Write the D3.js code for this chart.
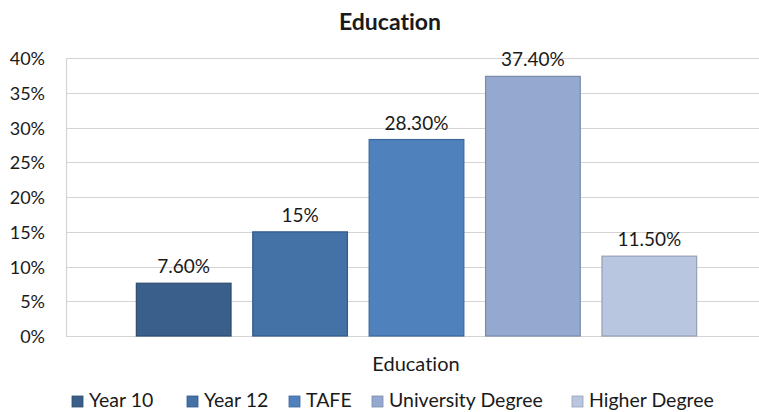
<!DOCTYPE html>
<html><head><meta charset="utf-8">
<script src="https://cdn.jsdelivr.net/npm/d3@7"></script>
<style>body{margin:0;background:#fff}svg{display:block}text{font-family:Lato,"Open Sans",sans-serif;fill:#1a1a1a;font-variant-ligatures:none;font-feature-settings:"liga" 0}</style>
</head><body><svg id="c" width="759" height="412"></svg>
<script>
const categories = ["Education"];
const series = ["Year 10", "Year 12", "TAFE", "University Degree", "Higher Degree"];
const values = [7.6, 15, 28.3, 37.4, 11.5];
const labels = ["7.60%", "15%", "28.30%", "37.40%", "11.50%"];
const colors = ["#3A5F8B", "#4471A6", "#4F81BD", "#95A9D0", "#B9C6E0"];
const strokes = ["#2E4A6E", "#35598A", "#3E679A", "#7A8AA8", "#96A0B5"];
const yTicks = [0, 5, 10, 15, 20, 25, 30, 35, 40];

const svg = d3.select("#c");
const L = 66, R = 767, T = 58.3, B = 336;
const y = d3.scaleLinear().domain([0, 40]).range([B, T]);
const xc = d3.scaleBand().domain(categories).range([L, R]);
const xs = d3.scaleBand().domain(series).range([0, xc.bandwidth()]).paddingInner(0.178).paddingOuter(0.6);

svg.append("text").attr("x", 390).attr("y", 30).attr("text-anchor", "middle")
  .style("font-weight", "bold").style("font-size", "23px").text("Education");

// gridlines
svg.append("g").selectAll("line").data(yTicks).join("line")
  .attr("x1", L).attr("x2", R).attr("y1", d => Math.round(y(d)) + 0.5).attr("y2", d => Math.round(y(d)) + 0.5)
  .attr("stroke", "#d4d4d4").attr("stroke-width", 1.2);
svg.append("line").attr("x1", L + 0.5).attr("x2", L + 0.5).attr("y1", T).attr("y2", B).attr("stroke", "#d4d4d4").attr("stroke-width", 1.2);

const yAxis = d3.axisLeft(y).tickValues(yTicks).tickFormat(d => d + "%").tickSize(0).tickPadding(0);
const ga = svg.append("g").attr("transform", `translate(45,0)`).call(yAxis);
ga.select(".domain").remove();
ga.selectAll("text").style("font-size", "18px").attr("fill", "#1a1a1a").attr("x", 0).attr("dy", "0.36em");

const g = svg.append("g").attr("transform", `translate(${xc("Education")},0)`);
g.selectAll("rect").data(series).join("rect")
  .attr("x", d => xs(d) + 0.5).attr("width", xs.bandwidth() - 1)
  .attr("y", (d, i) => y(values[i])).attr("height", (d, i) => B - y(values[i]))
  .attr("fill", (d, i) => colors[i]).attr("stroke", (d, i) => strokes[i]).attr("stroke-width", 1.2);
g.selectAll("text.lab").data(series).join("text").attr("class", "lab")
  .attr("x", d => xs(d) + xs.bandwidth() / 2).attr("y", (d, i) => y(values[i]) - 10)
  .attr("text-anchor", "middle").style("font-size", "19px").text((d, i) => labels[i]);

svg.append("text").attr("x", 416).attr("y", 371).attr("text-anchor", "middle").style("font-size", "20px").text(categories[0]);

// legend
const legX = [72, 187, 289, 372, 572];
const lg = svg.append("g");
series.forEach((s, i) => {
  lg.append("rect").attr("x", legX[i]).attr("y", 396).attr("width", 11).attr("height", 11)
    .attr("fill", colors[i]).attr("stroke", strokes[i]).attr("stroke-width", 0.8);
  lg.append("text").attr("x", legX[i] + 17).attr("y", 407).style("font-size", "19.5px").text(s);
});
</script></body></html>
